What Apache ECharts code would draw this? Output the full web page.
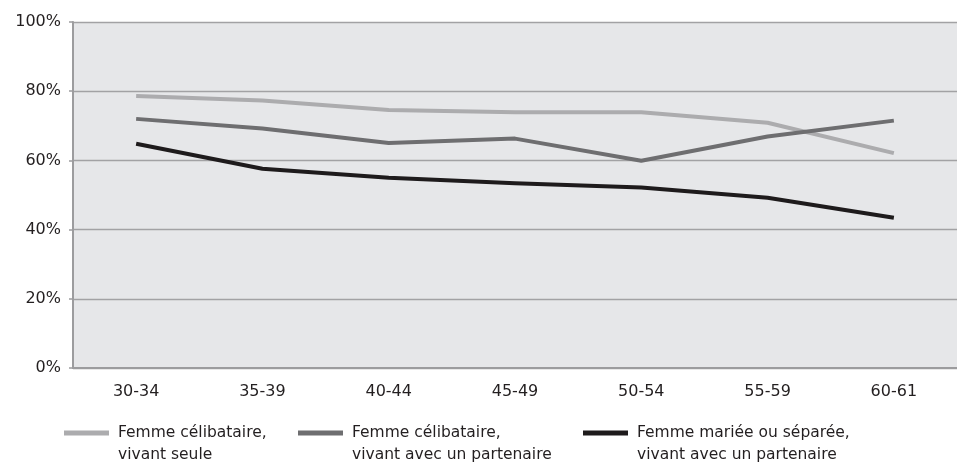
<!DOCTYPE html>
<html>
<head>
<meta charset="utf-8">
<script src="https://cdn.jsdelivr.net/npm/echarts@6/dist/echarts.min.js"></script>
<style>
  html, body { margin: 0; padding: 0; background: #ffffff; }
  #chart { width: 957px; height: 466px; }
</style>
</head>
<body>
<div id="chart"></div>
<script>
// Age groups on the horizontal axis
const ageGroups = ['30-34', '35-39', '40-44', '45-49', '50-54', '55-59', '60-61'];

// Shares (%) by household situation
const singleAlone = [78.6, 77.3, 74.6, 73.9, 73.9, 70.9, 62.1];
const singleWithPartner = [72.0, 69.2, 65.0, 66.3, 59.9, 66.9, 71.5];
const marriedWithPartner = [64.8, 57.6, 55.0, 53.4, 52.2, 49.2, 43.4];

// Series names (legend labels)
const seriesNames = [
  'Femme célibataire,\nvivant seule',
  'Femme célibataire,\nvivant avec un partenaire',
  'Femme mariée ou séparée,\nvivant avec un partenaire'
];

// Y-axis ticks
const yMin = 0, yMax = 100, yStep = 20;

const colors = ['#acacae', '#6e6e70', '#1e1b1c'];
const FONT = 'DejaVu Sans';

const chart = echarts.init(document.getElementById('chart'), null, { renderer: 'canvas' });

// One legend per series so each entry sits at its own x position.
// A leading empty line keeps the swatch level with the first text line.
function legendAt(name, left) {
  return {
    data: [name],
    left: left,
    top: 400,
    orient: 'horizontal',
    itemWidth: 45,
    itemHeight: 5,
    itemGap: 0,
    icon: 'rect',
    padding: 0,
    selectedMode: false,
    formatter: n => '\n' + n,
    textStyle: {
      fontFamily: FONT,
      fontSize: 15.5,
      color: '#231f20',
      lineHeight: 22,
      padding: [0, 0, 0, 4]
    }
  };
}

const lineSeries = [singleAlone, singleWithPartner, marriedWithPartner].map((vals, i) => ({
  name: seriesNames[i],
  type: 'line',
  data: vals,
  symbol: 'none',
  smooth: false,
  lineStyle: { width: 4, color: colors[i], cap: 'butt', join: 'round' },
  itemStyle: { color: colors[i] },
  emphasis: { disabled: true },
  z: 3 + i
}));

chart.setOption({
  animation: false,
  color: colors,
  grid: {
    left: 73,
    right: 0,
    top: 22,
    bottom: 98,
    show: true,
    backgroundColor: '#e6e7e9',
    borderWidth: 0
  },
  legend: [
    legendAt(seriesNames[0], 64),
    legendAt(seriesNames[1], 298),
    legendAt(seriesNames[2], 583)
  ],
  xAxis: {
    type: 'category',
    data: ageGroups,
    boundaryGap: true,
    axisLine: { show: true, lineStyle: { color: '#9c9c9e', width: 2 } },
    axisTick: { show: false },
    axisLabel: {
      fontFamily: FONT,
      fontSize: 16,
      color: '#231f20',
      margin: 16
    },
    splitLine: { show: false }
  },
  yAxis: {
    type: 'value',
    min: yMin,
    max: yMax,
    interval: yStep,
    axisLine: { show: true, lineStyle: { color: '#9c9c9e', width: 2 } },
    axisTick: { show: true, length: 4, lineStyle: { color: '#9c9c9e', width: 1.5 } },
    axisLabel: {
      fontFamily: FONT,
      fontSize: 16,
      color: '#231f20',
      margin: 12,
      formatter: '{value}%'
    },
    splitLine: { show: true, lineStyle: { color: '#a2a2a4', width: 1.3 } }
  },
  series: lineSeries
});
</script>
</body>
</html>
